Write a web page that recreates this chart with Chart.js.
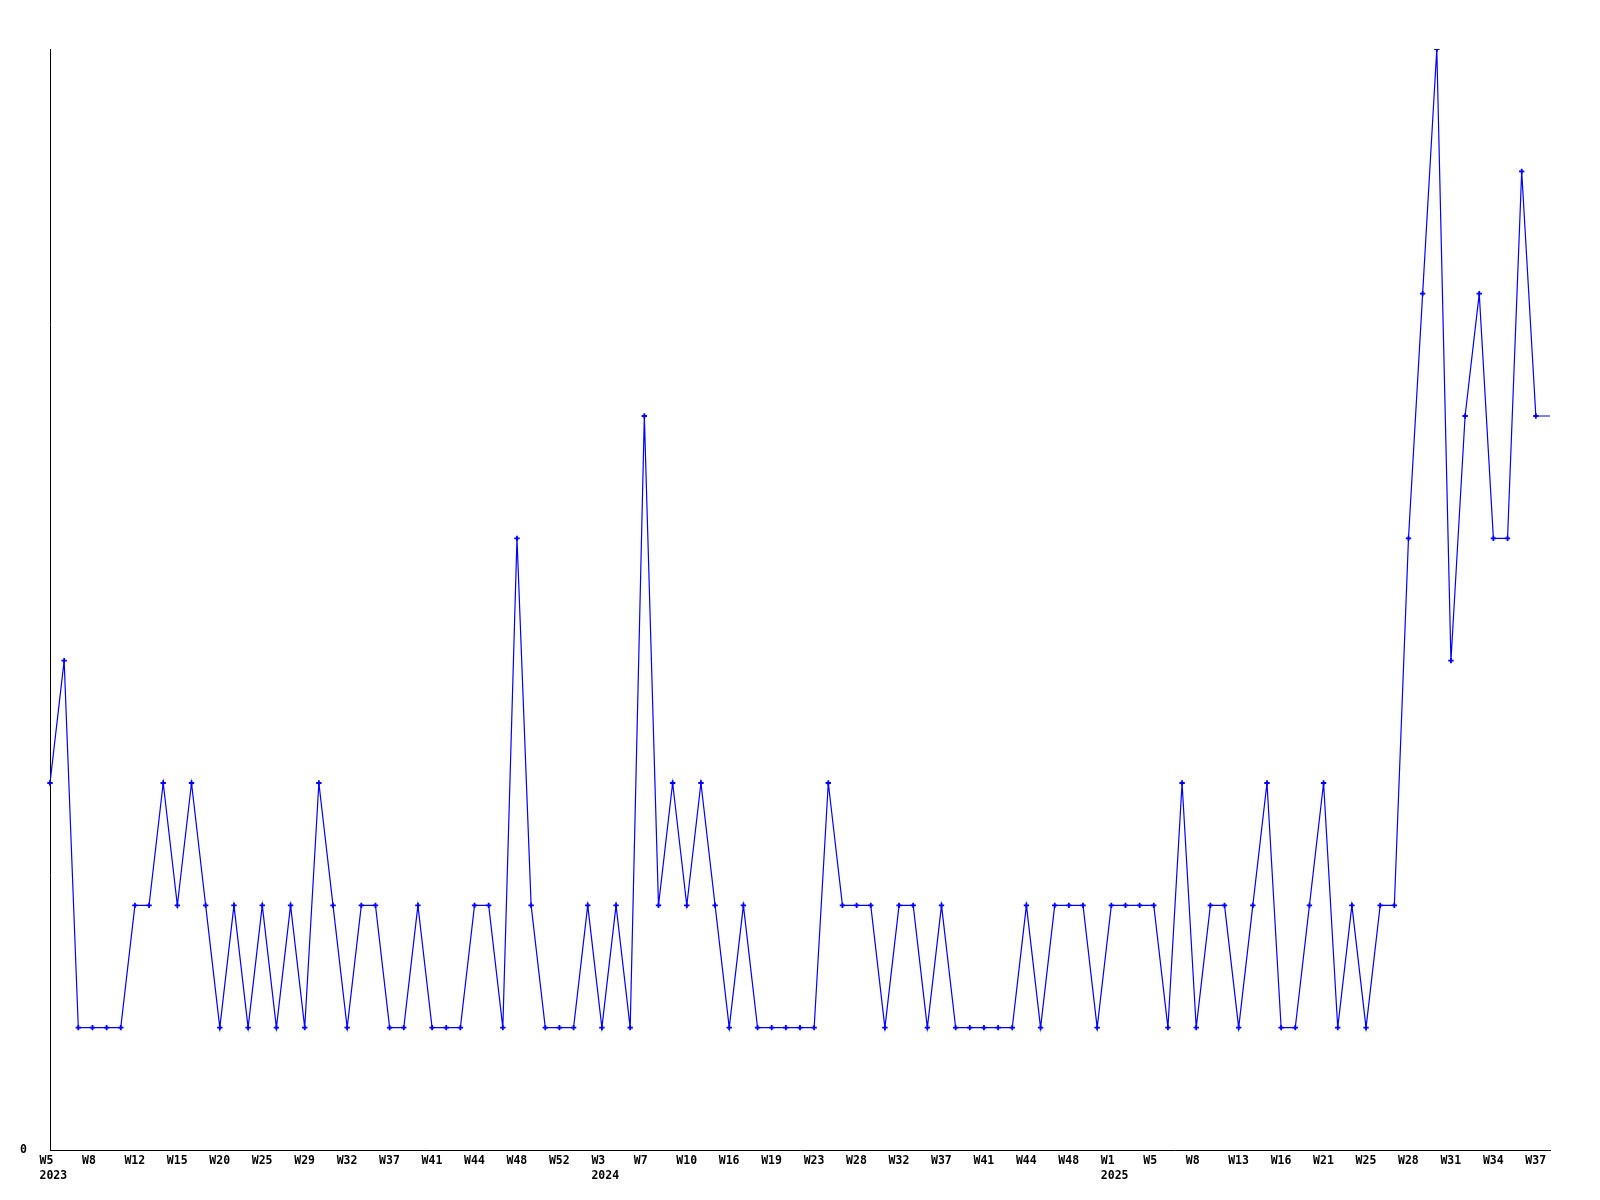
<!DOCTYPE html>
<html>
<head>
<meta charset="utf-8">
<script src="https://cdn.jsdelivr.net/npm/chart.js@4.4.1/dist/chart.umd.min.js"></script>
<style>
	html, body { margin: 0; padding: 0; background: #fff; }
</style>
</head>
<body>
<canvas id="weekly-chart" width="1600" height="1200"></canvas>
<script>
// tick labels, one every 3 points (week, year shown on first week of a year)
const tickWeeks = [
	'W5', 'W8', 'W12', 'W15', 'W20', 'W25', 'W29', 'W32', 'W37', 'W41', 'W44', 'W48',
	'W52', 'W3', 'W7', 'W10', 'W16', 'W19', 'W23', 'W28', 'W32', 'W37', 'W41', 'W44', 'W48',
	'W1', 'W5', 'W8', 'W13', 'W16', 'W21', 'W25', 'W28', 'W31', 'W34', 'W37',
];
const tickYears = {0: '2023', 13: '2024', 25: '2025'};

const values = [
	3, 4, 1, 1, 1, 1, 2, 2, 3, 2, 3, 2, 1, 2, 1, 2, 1, 2, 1, 3,
	2, 1, 2, 2, 1, 1, 2, 1, 1, 1, 2, 2, 1, 5, 2, 1, 1, 1, 2, 1,
	2, 1, 6, 2, 3, 2, 3, 2, 1, 2, 1, 1, 1, 1, 1, 3, 2, 2, 2, 1,
	2, 2, 1, 2, 1, 1, 1, 1, 1, 2, 1, 2, 2, 2, 1, 2, 2, 2, 2, 1,
	3, 1, 2, 2, 1, 2, 3, 1, 1, 2, 3, 1, 2, 1, 2, 2, 5, 7, 9, 4,
	6, 7, 5, 5, 8, 6, 6,
];

const labels = values.map((v, i) => {
	if (i % 3 !== 0) return '';
	const t = i / 3;
	return tickYears[t] ? [tickWeeks[t], tickYears[t]] : tickWeeks[t];
});

const monoFont = { family: '"DejaVu Sans Mono", "Liberation Mono", monospace', size: 11.5, weight: 'bold', lineHeight: 1.35 };

const ctx = document.getElementById('weekly-chart').getContext('2d');
new Chart(ctx, {
	type: 'line',
	data: {
		labels: labels,
		datasets: [
			{
				data: values,
				borderColor: '#0000ff',
				backgroundColor: '#0000ff',
				borderWidth: 1.2,
				tension: 0,
				pointStyle: 'cross',
				pointRadius: (c) => (c.dataIndex === values.length - 1 ? 0 : 2.7),
				pointBorderWidth: 1.8,
				pointBorderColor: '#0000ff',
			},
		],
	},
	options: {
		responsive: false,
		animation: false,
		devicePixelRatio: 1,
		layout: { padding: { left: 0, right: 50, top: 49, bottom: 0 } },
		plugins: { legend: { display: false }, tooltip: { enabled: false } },
		scales: {
			x: {
				offset: false,
				grid: { display: false, drawTicks: false, tickLength: 0 },
				border: { display: true, color: '#000', width: 1 },
				ticks: {
					autoSkip: false,
					maxRotation: 0,
					align: 'start',
					labelOffset: -10.5,
					padding: 3,
					color: '#000',
					font: monoFont,
				},
				afterFit: (scale) => { scale.height = 50; },
			},
			y: {
				min: 0,
				max: 9,
				grid: { display: false, drawTicks: false, tickLength: 0 },
				border: { display: true, color: '#000', width: 1 },
				afterBuildTicks: (scale) => { scale.ticks = [{ value: 0 }]; },
				ticks: {
					padding: 23,
					color: '#000',
					font: monoFont,
				},
				afterFit: (scale) => { scale.width = 50; },
			},
		},
	},
});
</script>
</body>
</html>
